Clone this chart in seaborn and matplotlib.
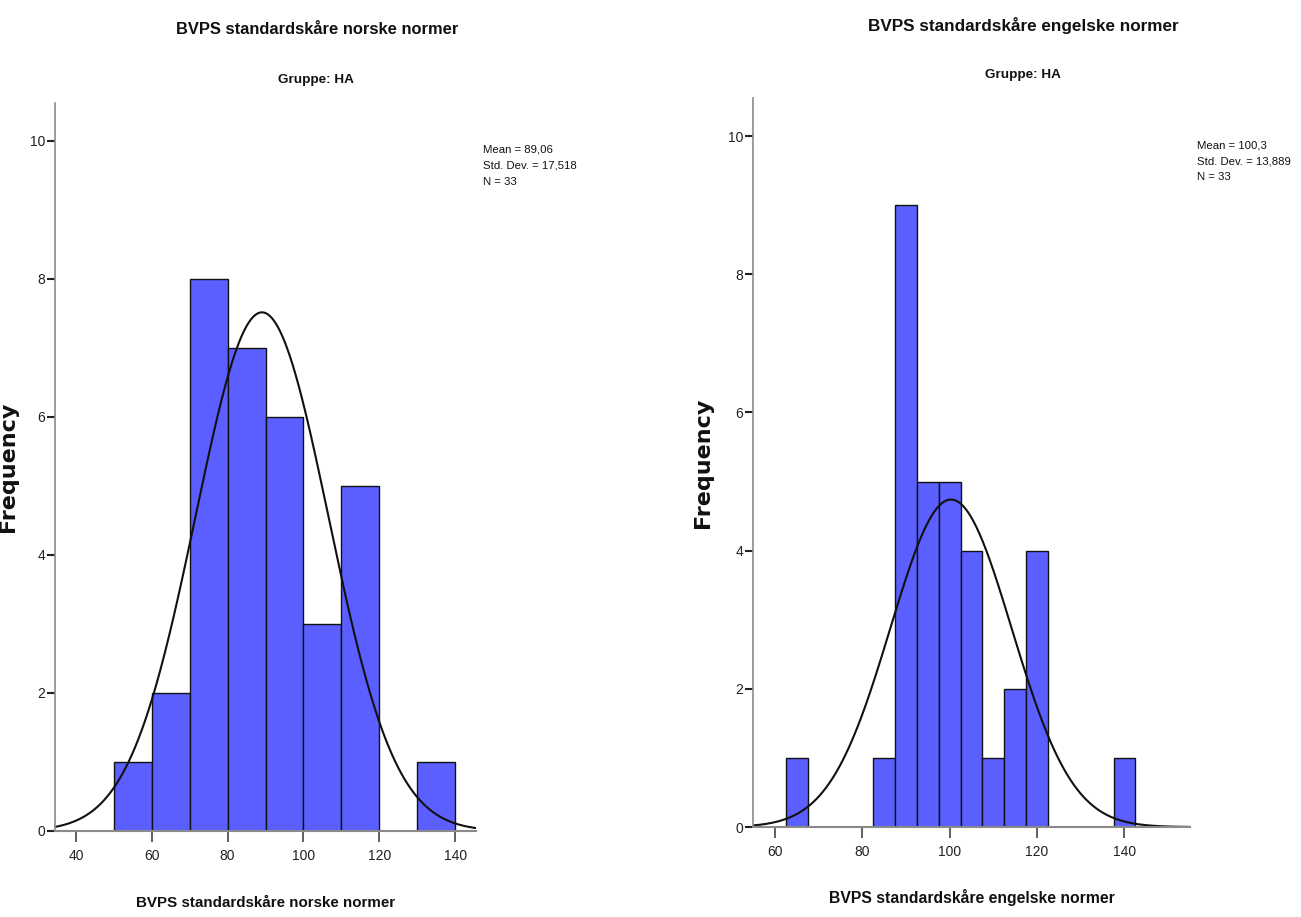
import numpy as np
import pandas as pd
import seaborn as sns
import matplotlib
matplotlib.use("Agg")
import matplotlib.pyplot as plt

# ---- Data ----
left_bin_edges = [50, 60, 70, 80, 90, 100, 110, 120, 130, 140]
left_counts = [1, 2, 8, 7, 6, 3, 5, 0, 1]
left_mean, left_sd, left_n = 89.06, 17.518, 33

right_bin_edges = [62.5, 67.5, 72.5, 77.5, 82.5, 87.5, 92.5, 97.5, 102.5,
                   107.5, 112.5, 117.5, 122.5, 127.5, 132.5, 137.5, 142.5]
right_counts = [1, 0, 0, 0, 1, 9, 5, 5, 4, 1, 2, 4, 0, 0, 0, 1]
right_mean, right_sd, right_n = 100.3, 13.889, 33

left_title = "BVPS standardskåre norske normer"
right_title = "BVPS standardskåre engelske normer"
group_label = "Gruppe: HA"
left_stats = "Mean = 89,06\nStd. Dev. = 17,518\nN = 33"
right_stats = "Mean = 100,3\nStd. Dev. = 13,889\nN = 33"
left_xticks = [40, 60, 80, 100, 120, 140]
right_xticks = [60, 80, 100, 120, 140]
yticks = [0, 2, 4, 6, 8, 10]

sns.set_theme(style="white")
plt.rcParams["font.family"] = ["Liberation Sans", "DejaVu Sans"]

BAR = "#5B5FFF"

fig = plt.figure(figsize=(13.01, 9.17), dpi=100)
axL = fig.add_axes([0.0423, 0.0938, 0.3236, 0.794])
axR = fig.add_axes([0.5788, 0.0981, 0.3359, 0.795])


def draw(ax, edges, counts, mean, sd, n, xlim, xticks, title, stats,
         title_xy, group_xy, xlab_y, stats_xy, ylab_x, xlab_size, title_size):
    e = np.asarray(edges, dtype=float)
    centers = (e[:-1] + e[1:]) / 2
    df = pd.DataFrame({"x": centers, "w": np.asarray(counts, dtype=float)})
    sns.histplot(data=df, x="x", weights="w", bins=list(edges), ax=ax,
                 color=BAR, alpha=1.0, edgecolor="#111111", linewidth=1.0)
    # fitted normal curve scaled to counts
    bw = e[1] - e[0]
    xs = np.linspace(xlim[0], xlim[1], 400)
    ys = n * bw / (sd * np.sqrt(2 * np.pi)) * np.exp(-0.5 * ((xs - mean) / sd) ** 2)
    sns.lineplot(x=xs, y=ys, ax=ax, color="#111111", linewidth=1.5)
    ax.set_xlim(*xlim)
    ax.set_ylim(0, 10.55)
    ax.set_xticks(xticks)
    ax.set_yticks(yticks)
    ax.tick_params(axis="both", labelsize=10, labelcolor="#222222", direction="out",
                   bottom=True, left=True)
    ax.tick_params(axis="x", length=8, width=1.2, color="#444444", pad=5)
    ax.tick_params(axis="y", length=6, width=1.5, color="#222222", pad=1)
    for s in ["top", "right"]:
        ax.spines[s].set_visible(False)
    ax.spines["left"].set_color("#8a8a8a")
    ax.spines["bottom"].set_color("#8a8a8a")
    ax.spines["left"].set_linewidth(1.2)
    ax.spines["bottom"].set_linewidth(1.5)
    ax.set_xlabel("")
    ax.set_ylabel("Frequency", family=["DejaVu Sans"], fontweight="bold",
                  fontsize=16, color="#111111")
    ax.yaxis.set_label_coords(ylab_x, 0.5)
    cx = (ax.get_position().x0 + ax.get_position().x1) / 2
    fig.text(title_xy[0], title_xy[1], title, ha="center", va="center",
             fontsize=title_size, fontweight="bold", color="#111111")
    fig.text(group_xy[0], group_xy[1], group_label, ha="center", va="center",
             fontsize=9.7, fontweight="bold", color="#111111")
    fig.text(cx, xlab_y, title, ha="center", va="center", fontsize=xlab_size,
             fontweight="bold", color="#111111")
    fig.text(stats_xy[0], stats_xy[1], stats, ha="left", va="top", fontsize=8.2,
             linespacing=1.75, color="#111111")


draw(axL, left_bin_edges, left_counts, left_mean, left_sd, left_n, (34.5, 145.5),
     left_xticks, left_title, left_stats,
     (317 / 1301, 1 - 30 / 917), (316 / 1301, 1 - 80 / 917), 1 - 903 / 917,
     (483 / 1301, 1 - 145 / 917), -0.088, 10.9, 11.9)
draw(axR, right_bin_edges, right_counts, right_mean, right_sd, right_n, (55, 155),
     right_xticks, right_title, right_stats,
     (1023 / 1301, 1 - 25 / 917), (1023 / 1301, 1 - 75 / 917), 1 - 897 / 917,
     (1197 / 1301, 1 - 140 / 917), -0.0915, 11.3, 12.3)

fig.savefig("out.png", dpi=100)
